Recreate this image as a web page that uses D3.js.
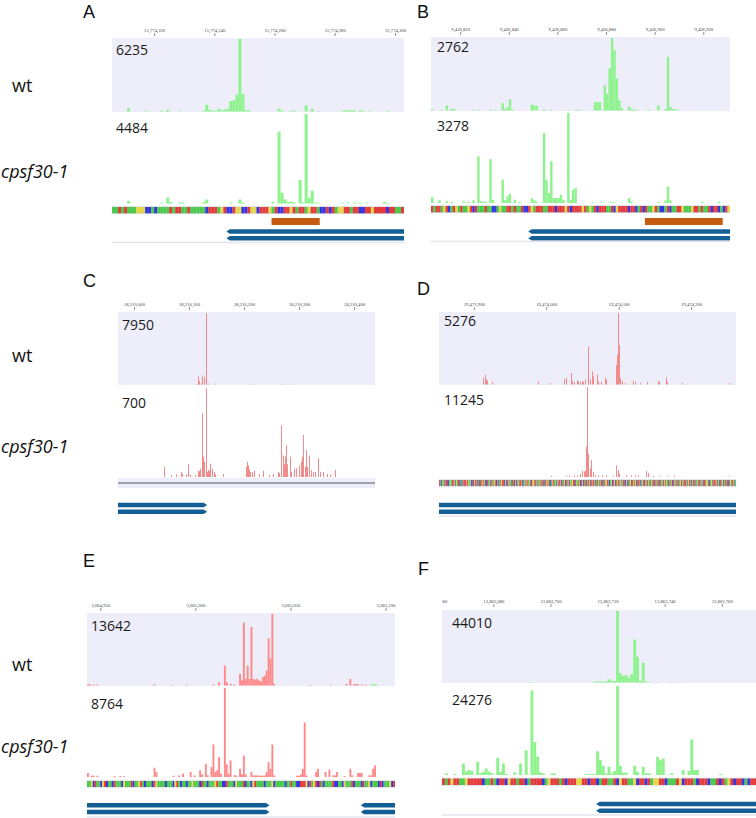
<!DOCTYPE html>
<html>
<head>
<meta charset="utf-8">
<script src="https://cdn.jsdelivr.net/npm/d3@7/dist/d3.min.js"></script>
<style>
  body { margin: 0; background: #fff; }
  svg { display: block; }
  .axis .tick text { font-family: "Liberation Serif", serif; font-size: 4.7px; fill: #444; }
  .axis .tick line { stroke: #444; stroke-width: 0.6; }
  .num { font-family: "Open Sans", sans-serif; font-size: 14px; fill: #1a1a1a; }
  .row { font-family: "Open Sans", sans-serif; font-size: 18px; fill: #111; }
  .letter { font-family: "Liberation Sans", sans-serif; font-size: 18px; fill: #111; }
</style>
</head>
<body>
<svg id="fig" width="756" height="818"></svg>
<script>

// ---- data ----
var letters = ["A", "B", "C", "D", "E", "F"];
var wtMax  = [6235, 2762, 7950, 5276, 13642, 44010];
var mutMax = [4484, 3278, 700, 11245, 8764, 24276];

// genomic window shown in each panel [start, end]
var windows = [
  [15774206, 15774303],
  [9426808, 9426931],
  [18209971, 18210438],
  [19473852, 19474262],
  [3664943, 3665105],
  [13863662, 13863772]
];

var aTicks = [15774220, 15774240, 15774260, 15774280, 15774300];
var bTicks = [9426820, 9426840, 9426860, 9426880, 9426900, 9426920];
var cTicks = [18210000, 18210100, 18210200, 18210300, 18210400];
var dTicks = [19473900, 19474000, 19474100, 19474200];
var eTicks = [3664950, 3665000, 3665050, 3665100];
var fTicks = [13863660, 13863680, 13863700, 13863720, 13863740, 13863760];

// read counts, [offset from window start (bp), count]
var aWt = [[5,300],[11,60],[16,90],[18,150],[22,40],[30,90],[31,580],[32,150],[33,90],[34,60],[35,230],[36,120],[37,150],
  [38,230],[39,900],[40,950],[41,1450],[42,6235],[43,1500],[44,120],[45,100],[55,230],[56,60],[59,60],[60,80],[64,520],
  [66,230],[68,40],[76,60],[77,100],[78,80],[79,120],[80,100],[82,90],[83,60],[85,40],[91,50]];
var aMut = [[5,135],[16,50],[18,300],[19,80],[22,50],[23,50],[30,80],[31,200],[39,50],[42,200],[43,50],[53,85],[55,3600],
  [56,540],[57,200],[58,80],[59,100],[60,60],[62,1175],[63,50],[64,4484],[65,300],[66,640],[67,50],[68,40],[76,40],[78,50],
  [80,50],[82,40],[84,40],[90,80],[91,40]];

var bWt = [[0,50],[4,30],[6,190],[8,60],[9,60],[17,30],[19,30],[24,30],[26,30],[29,280],[30,60],[31,120],[32,425],[33,40],
  [41,230],[42,180],[43,180],[46,50],[49,30],[56,30],[59,25],[60,25],[61,25],[67,320],[68,320],[69,320],[71,960],[72,640],
  [73,1600],[74,2762],[75,2300],[76,1220],[77,385],[78,100],[81,150],[82,50],[83,30],[84,30],[89,30],[93,190],[96,50],
  [97,2050],[98,120],[99,50],[100,50],[101,30]];
var bMut = [[0,220],[3,100],[6,60],[8,40],[13,60],[15,50],[17,100],[19,1700],[20,60],[21,50],[22,50],[24,1600],[25,120],
  [29,850],[30,100],[31,240],[32,340],[34,120],[36,40],[41,180],[42,100],[43,40],[46,2550],[47,850],[48,360],[49,1520],
  [50,180],[51,180],[52,180],[53,300],[54,120],[56,3278],[57,120],[58,490],[59,550],[66,25],[70,25],[73,25],[74,25],
  [75,25],[81,180],[82,60],[93,40],[96,100],[97,600],[98,100],[111,50],[118,50]];

var cWt = [[143,60],[145,900],[148,370],[150,150],[153,1000],[156,800],[159,7950],[160,550],[163,100],[174,100],[240,60],
  [297,80],[310,40]];
var cMut = [[84,80],[96,15],[105,20],[115,40],[117,25],[123,20],[128,100],[131,20],[140,15],[145,50],[147,45],[149,65],
  [153,500],[154,160],[156,120],[159,700],[161,40],[163,55],[166,50],[168,105],[170,65],[174,40],[177,20],[190,25],
  [233,80],[235,120],[237,90],[238,60],[240,40],[243,40],[248,50],[257,20],[264,50],[275,15],[282,25],[290,40],[293,30],
  [297,405],[299,170],[302,100],[304,160],[306,250],[308,100],[312,160],[315,40],[319,65],[324,70],[329,90],[332,120],
  [335,160],[337,330],[340,80],[342,210],[344,80],[347,170],[350,55],[355,40],[358,40],[363,145],[367,40],[373,40],
  [379,25],[385,20],[395,55]];

var dWt = [[61,500],[63,730],[65,400],[66,300],[73,200],[137,240],[153,120],[173,400],[175,490],[182,850],[184,250],
  [186,200],[190,300],[192,250],[194,200],[197,250],[199,200],[202,370],[205,2800],[206,730],[209,370],[211,970],[212,600],
  [218,730],[220,250],[224,200],[229,490],[231,370],[244,1450],[246,2200],[247,5276],[249,2900],[250,490],[252,250],
  [257,120],[268,290],[270,200],[277,120],[287,200],[302,240],[304,200],[313,530],[315,200],[335,120],[400,120]];
var dMut = [[155,120],[175,150],[180,150],[186,200],[190,200],[195,420],[198,800],[200,700],[201,800],[203,3800],
  [204,11245],[206,2900],[208,1050],[210,2100],[212,600],[216,200],[220,200],[225,200],[230,200],[240,120],[245,1470],
  [247,840],[249,400],[258,200],[265,200],[270,200],[275,200],[286,750],[288,500],[295,150],[305,150],[315,150],[325,150],
  [400,120]];

var eWt = [[0,200],[1,250],[3,200],[5,150],[35,200],[44,120],[52,120],[66,150],[69,630],[72,3800],[73,630],[75,300],
  [77,200],[80,2200],[81,950],[82,12000],[83,1260],[84,3800],[85,1260],[86,11200],[87,1260],[88,1140],[89,1260],[90,950],
  [91,760],[92,1580],[93,1900],[94,2850],[95,9000],[96,5200],[97,13642],[98,300],[117,120],[128,120],[136,300],[138,1260],
  [140,250],[141,250],[142,250],[144,200],[146,200]];
var eWtGreen = [[149,250],[150,250],[151,250],[152,150]];
var eMut = [[0,390],[2,130],[3,130],[5,130],[14,100],[17,100],[19,80],[35,910],[36,490],[45,130],[48,160],[50,325],
  [54,490],[56,160],[59,650],[60,260],[62,1300],[63,160],[65,980],[66,3200],[67,490],[68,650],[69,1950],[70,325],
  [72,8764],[73,1240],[74,325],[75,1630],[77,160],[78,160],[80,810],[81,260],[82,2100],[83,260],[86,490],[87,160],
  [88,160],[89,160],[90,130],[91,130],[92,130],[93,160],[94,490],[95,1460],[96,810],[97,3200],[98,160],[110,130],
  [111,130],[112,260],[113,810],[114,5370],[115,160],[120,490],[121,810],[125,490],[127,720],[129,160],[130,160],
  [131,490],[135,100],[138,810],[139,160],[142,390],[143,390],[144,390],[148,160],[149,160],[150,810],[151,1140]];

var fWt = [[30,200],[31,200],[53,600],[54,600],[55,600],[56,600],[57,600],[58,2000],[59,1000],[60,1000],[61,44010],
  [62,5700],[63,4000],[64,4500],[65,3000],[66,5100],[67,26500],[68,15900],[69,1000],[70,12200],[71,600],[72,300],
  [75,200],[80,200]];
var fMut = [[1,450],[4,280],[7,3150],[8,1000],[9,1400],[10,1100],[12,3600],[13,500],[14,900],[15,1800],[16,900],[17,450],
  [19,4700],[20,900],[21,3150],[22,300],[25,700],[27,3150],[29,6750],[31,23100],[32,9000],[33,4950],[34,700],[35,400],
  [38,450],[39,450],[50,250],[51,250],[52,250],[53,250],[54,6500],[55,4050],[56,2500],[57,450],[58,2250],[59,450],
  [60,1100],[61,24276],[62,2500],[63,700],[64,700],[67,2500],[68,900],[70,2250],[71,450],[72,450],[75,4950],[76,4050],
  [77,4500],[80,450],[84,1350],[86,1100],[87,9700],[88,1350],[89,1350],[97,280]];

// reference sequence under the tracks
var aSeq = "AATATAAAGGGCCACAAAATATTAATAAAAACTTTAGTCCTGGCCTGGCTTTGATCCTTGTATTAGTTACCTCTAGGTTATTCCTTGTTTTCTTAATTGCATCTTAG";
var bSeq = "TATTAGTCATGATAAGTCTAAATAACCAGAATTATAATCCTGATTTAATTTCTTTGTCTTTTGTAGATCTTTAATCGTTTTCTTCATCTAAGTACCATCAATTGAAAGTTATAATCTTCACTGGCAA";
var dSeq = "TTACAGATGCTTCCAGAATTTGCAGATCTACATGCTTTGTGAAGCCTCAGTTGCATCTATGTGACCTTAAGCTGTAGATCTGCAATGTTTCGACTTGAAGCTATCGTCAGATTTGCACGATGTAAGTCTGGATTGCAAGTATGCTTACGTGATCCAGTTAAGCGATTGTCAATGCTTAGTCGAAGTTCTAGATGACTTGCAATTCGTAGCTGTTAGCATTGACGTTCATGAGTTACAAGCTTGCATGTTAGCGATTTCAGCTAAGTCTGATGCATTTGCAAGTCTGATTGACAGTATTCGATGCTTAAGTCGTAGATCAATGCTTGACGTTAAGTCGATTTGCAGTTACGATCGTAAGTTCGATGCTTAGGATCAAGTGCTTGATAGCTTAGCAATGCTTCAGATTGCAA";
var eSeq = "AAGCTAACGTCAACTAAACGAAATCAAGTACAAACTGAAAACAAACGTACAACAAGAAACTAACAAAGTAACCTAAACGAAATCAACGTAAAACAAAGCAAAAACAATAACCTTTGCTAGTCTACAAAATCCAACGAAATCAAACTAAGCAAACTCAAAGCTT";
var fSeq = "TATGTTAAGTTTTTCAATACTTCGTTATTCATTTTCAGTTTATCTTTGGTTCTTCATTAATCGTTAAGCTTCTAGGTTCAAATGCTTTACTTTCAATCTAGTCTTCACTTTCAT";

// gene models [from, to, direction]; orange marks [from, to]
var aGene = [[15774244, 15774310, -1]];
var bGene = [[9426848, 9426940, -1]];
var cGene = [[18209960, 18210133, 1]];
var dGene = [[19473840, 19474270, 0]];
var eGene = [[3664930, 3665039, 1], [3665087, 3665120, -1]];
var fGene = [[13863716, 13863780, -1]];
var aMark = [15774259, 15774275];
var bMark = [9426896, 9426928];

// ---- layout ----
var GREEN = "#8ef38e", SALMON = "#ff8888", SPIKE = "#f17f7f";
var baseColor = {A: "#4cc94c", C: "#3434e2", G: "#e6d64a", T: "#e33b3b"};

var panels = [
  {ticks: aTicks, wt: aWt, mut: aMut, seq: aSeq, gene: aGene, mark: aMark, fill: GREEN,
   x0: 112, x1: 404, axisY: 36, wtTop: 38, wtBot: 112, mutTop: 114, mutBot: 203.5, seqY: 207, seqH: 6.3,
   markY: 218, geneY: 229.3, lineY: 242.5, letter: [83, 18], numX: 116, wtNumY: 55, mutNumY: 133},
  {ticks: bTicks, wt: bWt, mut: bMut, seq: bSeq, gene: bGene, mark: bMark, fill: GREEN,
   x0: 431, x1: 730, axisY: 35, wtTop: 37, wtBot: 111, mutTop: 113, mutBot: 203, seqY: 206, seqH: 6.3,
   markY: 218, geneY: 229.3, lineY: 241.5, letter: [417, 18], numX: 437, wtNumY: 52, mutNumY: 131},
  {ticks: cTicks, wt: cWt, mut: cMut, seq: null, gene: cGene, fill: SPIKE, thin: true,
   x0: 118, x1: 375, axisY: 310, wtTop: 312, wtBot: 385, mutTop: 388, mutBot: 477, seqY: 478, seqH: 10,
   geneY: 502.7, letter: [83, 287], numX: 122, wtNumY: 330, mutNumY: 408},
  {ticks: dTicks, wt: dWt, mut: dMut, seq: dSeq, gene: dGene, fill: SPIKE, thin: true,
   x0: 439, x1: 736, axisY: 310, wtTop: 312, wtBot: 385, mutTop: 387, mutBot: 477, seqY: 480, seqH: 6,
   geneY: 502.7, lineY: 516, letter: [417, 295], numX: 444, wtNumY: 326, mutNumY: 405},
  {ticks: eTicks, wt: eWt, mut: eMut, seq: eSeq, gene: eGene, fill: SALMON, extra: eWtGreen,
   x0: 87, x1: 395, axisY: 611, wtTop: 613, wtBot: 686, mutTop: 688, mutBot: 777, seqY: 781, seqH: 6,
   geneY: 803, lineY: 817, letter: [83, 567], numX: 91, wtNumY: 631, mutNumY: 709},
  {ticks: fTicks, wt: fWt, mut: fMut, seq: fSeq, gene: fGene, fill: GREEN,
   x0: 442, x1: 756, axisY: 607, wtTop: 610, wtBot: 683, mutTop: 686, mutBot: 775, seqY: 778.5, seqH: 6.5,
   geneY: 801.7, lineY: 815, letter: [418, 575], numX: 452, wtNumY: 628, mutNumY: 705}
];

var svg = d3.select("#fig");
var defs = svg.append("defs");

// row labels
[[92, 178], [362, 453], [671, 753]].forEach(function(r) {
  svg.append("text").attr("class", "row").attr("x", 12).attr("y", r[0]).text("wt");
  svg.append("text").attr("class", "row").attr("x", 1).attr("y", r[1])
      .style("font-style", "italic").text("cpsf30-1");
});

function drawBars(g, data, x, y, start, fill, thin) {
  g.selectAll(null)
      .data(data)
    .enter().append("rect")
      .attr("x", function(d) { return thin ? Math.round(x(start + d[0])) : x(start + d[0]); })
      .attr("width", function(d) { return thin ? 1 : x(start + d[0] + 1) - x(start + d[0]); })
      .attr("y", function(d) { return y(d[1]); })
      .attr("height", function(d) { return y(0) - y(d[1]); })
      .style("fill", fill)
      .style("opacity", thin ? 0.9 : 1);
}

function genePath(x, from, to, dir, y0, h) {
  var a = x(from), b = x(to), m = y0 + h / 2, t = 3.5;
  if (dir < 0) return "M" + b + "," + y0 + "L" + (a + t) + "," + y0 + "L" + a + "," + m +
      "L" + (a + t) + "," + (y0 + h) + "L" + b + "," + (y0 + h) + "Z";
  if (dir > 0) return "M" + a + "," + y0 + "L" + (b - t) + "," + y0 + "L" + b + "," + m +
      "L" + (b - t) + "," + (y0 + h) + "L" + a + "," + (y0 + h) + "Z";
  return "M" + a + "," + y0 + "H" + b + "V" + (y0 + h) + "H" + a + "Z";
}

panels.forEach(function(p, i) {
  var start = windows[i][0];

  var x = d3.scaleLinear()
      .domain(windows[i])
      .range([p.x0, p.x1]);

  var yWt = d3.scaleLinear()
      .domain([0, wtMax[i]])
      .range([p.wtBot - 0.5, p.wtTop + 1]);

  var yMut = d3.scaleLinear()
      .domain([0, mutMax[i]])
      .range([p.mutBot, p.mutTop]);

  defs.append("clipPath").attr("id", "clip" + i)
    .append("rect").attr("x", p.x0).attr("y", 0).attr("width", p.x1 - p.x0).attr("height", 818);
  // axis group is translated, so this rect is in its local coordinates
  defs.append("clipPath").attr("id", "aclip" + i)
    .append("rect").attr("x", p.x0).attr("y", -30).attr("width", p.x1 - p.x0 + 20).attr("height", 40);

  svg.append("text").attr("class", "letter")
      .attr("x", p.letter[0]).attr("y", p.letter[1]).text(letters[i]);

  // ruler
  svg.append("g")
      .attr("class", "axis")
      .attr("clip-path", "url(#aclip" + i + ")")
      .attr("transform", "translate(0," + p.axisY + ")")
      .call(d3.axisTop(x).tickValues(p.ticks).tickFormat(d3.format(",")).tickSize(3).tickPadding(1))
      .call(function(g) { g.select(".domain").remove(); });

  var g = svg.append("g").attr("clip-path", "url(#clip" + i + ")");

  g.append("rect")
      .attr("x", p.x0).attr("y", p.wtTop)
      .attr("width", p.x1 - p.x0).attr("height", p.wtBot - p.wtTop)
      .style("fill", "#eeeefa");

  drawBars(g, p.wt, x, yWt, start, p.fill, p.thin);
  if (p.extra) drawBars(g, p.extra, x, yWt, start, GREEN, false);
  drawBars(g, p.mut, x, yMut, start, p.fill, p.thin);

  // sequence track
  if (p.seq) {
    g.append("rect")
        .attr("x", p.x0).attr("y", p.seqY - 0.8)
        .attr("width", p.x1 - p.x0).attr("height", p.seqH + 1.6)
        .style("fill", "#dcdce8");
    g.selectAll(null)
        .data(p.seq.split(""))
      .enter().append("rect")
        .attr("x", function(d, k) { return x(start + k); })
        .attr("width", function(d, k) { return x(start + k + 1) - x(start + k) + 0.05; })
        .attr("y", p.seqY)
        .attr("height", p.seqH)
        .style("fill", function(d) { return baseColor[d]; });
  } else {
    g.append("rect")
        .attr("x", p.x0).attr("y", p.seqY)
        .attr("width", p.x1 - p.x0).attr("height", p.seqH)
        .style("fill", "#eeeefa");
    g.append("line")
        .attr("x1", p.x0).attr("x2", p.x1)
        .attr("y1", p.seqY + 5).attr("y2", p.seqY + 5)
        .style("stroke", "#555").style("stroke-width", 1);
  }

  if (p.mark) {
    g.append("rect")
        .attr("x", x(p.mark[0])).attr("y", p.markY)
        .attr("width", x(p.mark[1]) - x(p.mark[0])).attr("height", 7)
        .style("fill", "#c55a11");
  }

  [0, 6.7].forEach(function(dy) {
    g.selectAll(null)
        .data(p.gene)
      .enter().append("path")
        .attr("d", function(d) { return genePath(x, d[0], d[1], d[2], p.geneY + dy, 4.5); })
        .style("fill", "#135f95");
  });

  if (p.lineY) {
    g.append("line")
        .attr("x1", p.x0).attr("x2", p.x1)
        .attr("y1", p.lineY).attr("y2", p.lineY)
        .style("stroke", "#e4e4f0").style("stroke-width", 1.5);
  }

  svg.append("text").attr("class", "num")
      .attr("x", p.numX).attr("y", p.wtNumY).text(wtMax[i]);
  svg.append("text").attr("class", "num")
      .attr("x", p.numX).attr("y", p.mutNumY).text(mutMax[i]);
});

</script>
</body>
</html>
